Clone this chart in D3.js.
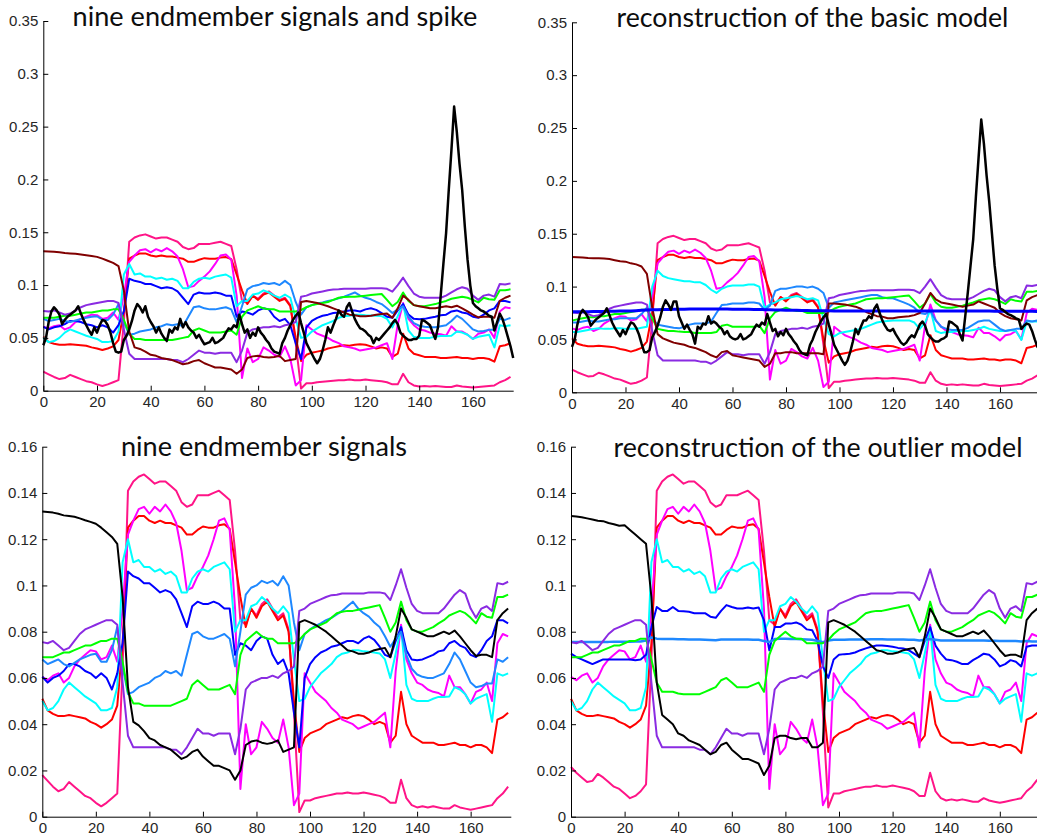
<!DOCTYPE html>
<html>
<head>
<meta charset="utf-8">
<script src="https://cdn.jsdelivr.net/npm/d3@7"></script>
<style>
  body { margin: 0; background: #fff; }
</style>
</head>
<body>
<svg id="fig" width="1037" height="836"></svg>
<script>

// endmember signals, one value every 2 samples (0, 2, ... 174)
var em1 = [.132,.1318,.1315,.131,.1303,.130,.1297,.129,.1282,.1275,
  .1267,.125,.123,.121,.118,.095,.056,.041,.0395,.037,
  .034,.033,.031,.030,.029,.027,.025,.026,.028,.029,
  .026,.024,.022,.022,.021,.020,.016,.020,.031,.0325,
  .033,.032,.0315,.032,.033,.028,.029,.030,.084,.085,
  .084,.083,.0815,.080,.078,.076,.074,.072,.0715,.0705,
  .0705,.071,.072,.0725,.073,.069,.078,.090,.086,.081,
  .080,.079,.078,.078,.079,.080,.079,.0805,.078,.075,
  .072,.0695,.070,.070,.069,.085,.088,.090]

var em2 = [.018,.0155,.013,.011,.012,.015,.013,.011,.009,.008,
  .006,.0045,.006,.008,.010,.065,.141,.145,.147,.148,
  .146,.144,.145,.145,.143,.141,.136,.134,.135,.139,
  .139,.139,.140,.141,.139,.137,.115,.085,.083,.090,
  .087,.092,.094,.090,.086,.088,.081,.045,.002,.007,
  .007,.008,.0085,.009,.0095,.010,.010,.0105,.010,.010,
  .0105,.010,.0095,.009,.008,.006,.006,.016,.008,.005,
  .004,.0045,.004,.0045,.004,.0035,.0035,.005,.004,.0035,
  .003,.0035,.004,.0045,.005,.008,.010,.013]

var em3 = [.051,.046,.0445,.0435,.0435,.044,.0435,.043,.0425,.041,
  .040,.0385,.040,.042,.048,.075,.125,.128,.130,.130,
  .128,.127,.128,.127,.127,.126,.125,.122,.122,.124,
  .1255,.125,.125,.126,.1265,.1245,.110,.095,.082,.090,
  .086,.091,.093,.089,.085,.087,.080,.050,.028,.034,
  .036,.037,.038,.040,.041,.042,.043,.0425,.0435,.044,
  .0435,.042,.040,.041,.040,.032,.035,.054,.040,.035,
  .0335,.032,.032,.032,.031,.031,.0315,.032,.031,.031,
  .030,.031,.031,.030,.0275,.042,.043,.045]

var em4 = [.0605,.059,.061,.062,.058,.060,.065,.068,.070,.072,
  .0715,.068,.069,.074,.067,.090,.122,.128,.133,.134,
  .131,.134,.132,.135,.132,.127,.115,.098,.099,.104,
  .108,.113,.120,.128,.129,.124,.090,.012,.040,.027,
  .030,.041,.038,.034,.032,.042,.030,.005,.010,.062,
  .058,.054,.052,.050,.047,.045,.042,.041,.040,.038,
  .039,.040,.041,.043,.045,.030,.063,.083,.068,.062,
  .058,.057,.055,.054,.0535,.052,.061,.056,.056,.053,
  .049,.054,.055,.058,.050,.075,.079,.078]

var em5 = [.050,.046,.047,.050,.055,.058,.056,.054,.052,.0505,
  .049,.046,.046,.047,.056,.110,.120,.110,.111,.108,
  .108,.106,.107,.105,.106,.104,.097,.097,.103,.106,
  .107,.106,.108,.109,.110,.107,.080,.085,.085,.091,
  .092,.095,.093,.090,.088,.091,.088,.068,.050,.051,
  .056,.059,.062,.064,.066,.069,.0705,.071,.072,.072,
  .0715,.0713,.071,.0706,.068,.060,.0706,.082,.057,.051,
  .050,.050,.050,.051,.0518,.0518,.052,.056,.055,.053,
  .049,.051,.052,.053,.041,.062,.061,.062]

var em6 = [.0605,.058,.060,.061,.063,.066,.066,.065,.063,.062,
  .060,.062,.060,.055,.062,.075,.106,.104,.103,.101,
  .101,.099,.097,.098,.097,.094,.088,.082,.091,.093,
  .092,.092,.093,.092,.090,.090,.070,.075,.074,.072,
  .076,.078,.077,.070,.066,.068,.062,.045,.030,.060,
  .066,.069,.071,.072,.0735,.074,.075,.076,.076,.075,
  .077,.078,.0765,.0735,.070,.069,.076,.082,.072,.068,
  .0677,.068,.069,.070,.0715,.072,.075,.076,.074,.073,
  .070,.069,.072,.076,.078,.085,.085,.0836]

var em7 = [.068,.066,.067,.068,.066,.065,.0665,.068,.069,.070,
  .0705,.067,.067,.072,.082,.065,.053,.054,.056,.057,
  .058,.060,.061,.063,.062,.063,.061,.070,.079,.080,
  .078,.077,.077,.078,.079,.077,.065,.080,.096,.099,
  .100,.102,.101,.102,.100,.104,.100,.084,.072,.079,
  .081,.0825,.0836,.085,.086,.0875,.089,.091,.093,.090,
  .088,.0865,.084,.082,.078,.0735,.077,.080,.070,.064,
  .0615,.0605,.060,.060,.061,.062,.066,.071,.068,.063,
  .058,.056,.0565,.0576,.0576,.068,.067,.069]

var em8 = [.069,.069,.069,.070,.071,.071,.072,.073,.074,.074,
  .075,.076,.076,.077,.077,.067,.054,.049,.049,.048,
  .048,.048,.048,.048,.048,.049,.050,.051,.057,.059,
  .057,.055,.055,.055,.056,.057,.053,.070,.076,.078,
  .080,.078,.077,.077,.075,.075,.075,.075,.0764,.079,
  .081,.082,.083,.084,.086,.088,.0886,.089,.089,.0895,
  .090,.0905,.091,.0915,.086,.080,.084,.093,.085,.081,
  .080,.080,.081,.082,.0836,.085,.087,.088,.089,.088,
  .086,.0836,.088,.0865,.086,.095,.095,.096]

var em9 = [.0755,.075,.076,.074,.072,.073,.076,.079,.081,.082,
  .083,.084,.085,.085,.083,.058,.035,.030,.030,.030,
  .030,.030,.030,.030,.029,.029,.027,.030,.034,.038,
  .036,.036,.035,.036,.036,.036,.027,.038,.055,.058,
  .059,.060,.060,.061,.060,.062,.063,.065,.089,.090,
  .092,.093,.094,.095,.0958,.096,.0965,.0965,.0965,.0965,
  .0965,.097,.097,.097,.0965,.0937,.100,.107,.099,.092,
  .089,.088,.088,.088,.088,.090,.093,.096,.098,.0965,
  .090,.086,.090,.091,.089,.101,.1005,.1016]

// spike signal, one value per sample (0 ... 175)
var spike = [.043,.050,.065,.075,.079,.076,.072,.063,.067,.070,
  .072,.074,.076,.080,.073,.067,.062,.057,.053,.060,
  .055,.062,.067,.066,.062,.055,.045,.037,.036,.037,
  .048,.052,.058,.066,.076,.082,.079,.074,.080,.070,
  .065,.061,.055,.060,.054,.050,.047,.058,.055,.060,
  .058,.068,.060,.065,.060,.057,.055,.050,.053,.048,
  .044,.045,.046,.050,.045,.046,.048,.050,.055,.059,
  .058,.062,.060,.072,.063,.055,.058,.050,.055,.052,
  .060,.055,.052,.048,.045,.040,.037,.036,.035,.045,
  .050,.057,.062,.067,.071,.074,.064,.055,.045,.040,
  .035,.030,.026,.030,.038,.048,.060,.055,.062,.068,
  .076,.072,.070,.079,.083,.075,.068,.063,.059,.058,
  .056,.053,.051,.045,.050,.048,.051,.054,.057,.060,
  .064,.067,.063,.055,.052,.050,.048,.048,.049,.049,
  .052,.067,.066,.064,.062,.055,.049,.060,.090,.120,
  .149,.190,.228,.269,.245,.215,.190,.155,.124,.100,
  .083,.080,.078,.076,.075,.073,.071,.070,.057,.065,
  .073,.068,.060,.051,.042,.031]

// reconstruction of the basic model
var basicSpike = [.043,.050,.064,.074,.078,.075,.071,.063,.066,.069,
  .071,.073,.075,.0795,.073,.066,.061,.057,.053,.059,
  .055,.061,.066,.065,.061,.055,.046,.038,.038,.040,
  .052,.057,.063,.071,.081,.087,.083,.078,.086,.086,
  .072,.066,.060,.064,.059,.055,.046,.062,.060,.065,
  .064,.072,.065,.067,.065,.062,.060,.055,.058,.053,
  .051,.050,.051,.055,.050,.051,.053,.055,.060,.064,
  .062,.066,.064,.074,.066,.058,.060,.053,.057,.054,
  .060,.055,.052,.048,.045,.040,.037,.036,.035,.045,
  .050,.057,.062,.067,.071,.074,.064,.055,.045,.040,
  .035,.030,.026,.030,.038,.048,.060,.055,.062,.068,
  .068,.072,.070,.079,.083,.075,.068,.063,.059,.058,
  .060,.055,.051,.047,.045,.047,.051,.054,.052,.058,
  .064,.067,.063,.055,.052,.0495,.048,.048,.050,.051,
  .053,.067,.066,.064,.062,.055,.049,.0716,.095,.120,
  .145,.185,.222,.258,.235,.205,.180,.150,.120,.098,
  .0795,.078,.076,.074,.073,.0716,.070,.069,.060,.063,
  .065,.064,.058,.050,.043,.040]

var basicEm1 = [.128,.1278,.1275,.127,.1268,.1268,.1265,.126,.125,.124,
  .1236,.122,.121,.119,.112,.080,.055,.051,.049,.047,
  .046,.045,.043,.042,.040,.038,.035,.033,.038,.039,
  .035,.034,.033,.032,.031,.030,.024,.027,.037,.037,
  .038,.038,.037,.037,.037,.037,.037,.036,.084,.084,
  .0835,.083,.082,.081,.079,.076,.074,.072,.0716,.070,
  .070,.071,.0715,.072,.073,.075,.084,.094,.088,.085,
  .084,.083,.082,.081,.082,.083,.086,.084,.082,.080,
  .075,.072,.070,.069,.068,.087,.090,.092]

var reconEm2 = [.0215,.019,.017,.015,.0155,.0185,.017,.015,.013,.012,
  .010,.008,.009,.011,.014,.068,.141,.145,.147,.148,
  .146,.144,.145,.145,.143,.141,.136,.134,.135,.139,
  .139,.139,.140,.141,.139,.137,.115,.085,.083,.090,
  .087,.092,.094,.090,.086,.088,.081,.045,.004,.010,
  .010,.011,.0115,.012,.0125,.013,.013,.0135,.013,.013,
  .0135,.013,.0125,.012,.011,.009,.009,.019,.011,.008,
  .007,.0075,.007,.0075,.007,.0065,.0065,.008,.007,.0065,
  .006,.0065,.007,.0075,.008,.011,.013,.016]

var basicEm5 = [.057,.057,.058,.059,.060,.0605,.060,.060,.0605,.0605,
  .060,.060,.060,.061,.062,.100,.115,.110,.108,.107,
  .106,.105,.105,.104,.104,.1015,.097,.094,.098,.100,
  .101,.101,.101,.102,.102,.100,.080,.083,.085,.088,
  .089,.090,.091,.090,.088,.089,.087,.070,.055,.053,
  .056,.057,.058,.059,.060,.062,.064,.066,.067,.0675,
  .068,.068,.068,.068,.066,.060,.066,.078,.058,.056,
  .057,.057,.058,.058,.058,.059,.060,.062,.060,.059,
  .058,.058,.059,.058,.0495,.067,.067,.067]

var basicEm6 = [.0762,.0762,.0763,.0763,.0764,.0764,.0765,.0766,.0767,.0768,
  .0769,.077,.0772,.0775,.0778,.078,.0782,.0783,.0784,.0785,
  .0786,.0786,.0787,.0787,.0787,.0787,.0787,.0787,.0787,.0787,
  .0786,.0786,.0785,.0785,.0784,.0784,.0782,.078,.0779,.0778,
  .0777,.0776,.0775,.0774,.0773,.0772,.0772,.0771,.0771,.077,
  .077,.077,.077,.077,.077,.077,.077,.077,.077,.077,
  .077,.077,.077,.077,.0769,.0769,.0769,.0769,.0769,.0769,
  .0769,.0769,.0768,.0768,.0768,.0768,.0768,.0768,.0768,.0767,
  .0767,.0767,.0767,.0766,.0766,.0766,.0766,.0765]

var basicEm7 = [.066,.066,.067,.068,.067,.067,.068,.069,.069,.070,
  .070,.070,.070,.074,.080,.070,.064,.063,.062,.061,
  .0605,.062,.064,.065,.065,.065,.067,.075,.0826,.083,
  .084,.084,.084,.085,.085,.084,.078,.082,.096,.098,
  .098,.099,.100,.100,.099,.100,.098,.094,.080,.085,
  .086,.087,.088,.089,.090,.091,.092,.092,.090,.089,
  .089,.087,.085,.083,.080,.075,.074,.077,.068,.062,
  .060,.059,.059,.059,.061,.064,.067,.068,.068,.064,
  .060,.058,.059,.060,.060,.068,.067,.068]

var basicEm8 = [.068,.069,.070,.071,.071,.072,.072,.073,.074,.074,
  .075,.076,.077,.078,.078,.070,.060,.059,.058,.058,
  .0574,.057,.057,.056,.056,.056,.056,.057,.063,.064,
  .062,.062,.062,.062,.062,.063,.056,.070,.076,.078,
  .080,.078,.077,.077,.075,.075,.075,.075,.0764,.079,
  .081,.082,.083,.084,.086,.088,.0886,.089,.089,.0895,
  .090,.0905,.091,.0915,.086,.080,.084,.093,.085,.081,
  .080,.080,.081,.082,.0836,.085,.087,.088,.089,.088,
  .086,.0836,.088,.0865,.086,.095,.095,.096]

// reconstruction of the outlier model
var outlierEm1 = [.130,.1298,.1295,.129,.1285,.128,.1278,.127,.1265,.1258,
  .126,.124,.122,.120,.118,.095,.058,.044,.042,.040,
  .036,.035,.033,.032,.031,.029,.027,.028,.031,.032,
  .029,.027,.025,.025,.024,.023,.018,.022,.034,.035,
  .035,.034,.0335,.034,.034,.030,.030,.032,.084,.085,
  .084,.083,.0815,.080,.078,.076,.074,.072,.0715,.0705,
  .0705,.071,.072,.0725,.073,.069,.078,.090,.086,.081,
  .080,.079,.078,.078,.079,.080,.079,.0805,.078,.075,
  .072,.0695,.070,.070,.069,.085,.088,.090]

var outlierEm6 = [.0705,.069,.068,.067,.066,.067,.068,.068,.068,.068,
  .068,.068,.0677,.068,.070,.082,.0907,.089,.089,.0907,
  .089,.0888,.0886,.088,.088,.088,.0865,.086,.089,.0915,
  .0907,.090,.090,.0905,.090,.0905,.085,.072,.082,.082,
  .0835,.0835,.084,.083,.081,.0806,.076,.065,.060,.068,
  .070,.0703,.0705,.071,.072,.0728,.0735,.074,.074,.0738,
  .0735,.073,.0727,.072,.0705,.069,.076,.082,.074,.0705,
  .068,.0677,.067,.066,.066,.0677,.069,.0705,.070,.068,
  .065,.066,.0677,.067,.065,.0735,.074,.074]

var outlierEm7 = [.0755,.0755,.0755,.0755,.0756,.0756,.0756,.0756,.0757,.0757,
  .0757,.0757,.0758,.0758,.0762,.0775,.077,.0768,.0768,.0768,
  .0767,.0767,.0766,.0766,.0766,.0765,.0764,.0763,.0766,.0766,
  .0766,.0766,.0766,.0766,.0765,.0765,.076,.0755,.0768,.077,
  .077,.0768,.0768,.0767,.0766,.0765,.076,.0755,.0762,.0765,
  .0765,.0765,.0766,.0766,.0766,.0766,.0767,.0767,.0767,.0766,
  .0766,.0766,.0766,.0765,.0765,.0762,.0765,.0768,.0765,.0762,
  .0762,.0762,.0762,.0762,.0762,.0762,.0762,.0762,.0761,.0761,
  .076,.076,.076,.076,.0758,.076,.0758,.0758]

var outlierEm8 = [.069,.069,.069,.070,.071,.071,.072,.073,.074,.074,
  .075,.076,.076,.077,.077,.068,.058,.054,.054,.054,
  .0533,.053,.053,.053,.053,.054,.055,.056,.059,.060,
  .058,.056,.056,.056,.057,.058,.054,.070,.076,.078,
  .080,.078,.077,.077,.075,.075,.075,.075,.0764,.079,
  .081,.082,.083,.084,.086,.088,.0886,.089,.089,.0895,
  .090,.0905,.091,.0915,.086,.080,.084,.093,.085,.081,
  .080,.080,.081,.082,.0836,.085,.087,.088,.089,.088,
  .086,.0836,.088,.0865,.086,.095,.095,.096]

var xTicks = [0, 20, 40, 60, 80, 100, 120, 140, 160]
var yTicksTop = [0, 0.05, 0.1, 0.15, 0.2, 0.25, 0.3, 0.35]
var yTicksBottom = [0, 0.02, 0.04, 0.06, 0.08, 0.1, 0.12, 0.14, 0.16]

var titles = ['nine endmember signals and spike', 'reconstruction of the basic model',
  'nine endmember signals', 'reconstruction of the outlier model']

var c = {
  maroon: '#800000', pink: '#ff1487', red: '#ff0000', magenta: '#ff00ff', cyan: '#00ffff',
  blue: '#0000ff', sky: '#1e88ff', green: '#00ff00', purple: '#8a2be2', black: '#000000'
}

var svg = d3.select('#fig')

var panels = [
  { title: titles[0], tx: 275, ty: 26, tw: 405, left: 43.3, right: 513.2, top: 21, bottom: 390.7, ymax: 0.35, yticks: yTicksTop,
    series: [[em2, c.pink], [em3, c.red], [em4, c.magenta], [em5, c.cyan], [em6, c.blue], [em7, c.sky],
      [em8, c.green], [em9, c.purple], [em1, c.maroon], [spike, c.black, 2.5]] },
  { title: titles[1], tx: 812.5, ty: 26.5, tw: 392, left: 572, right: 1040.1, top: 22.3, bottom: 392.3, ymax: 0.35, yticks: yTicksTop,
    series: [[reconEm2, c.pink], [em3, c.red], [em4, c.magenta], [basicEm5, c.cyan], [basicEm7, c.sky],
      [basicEm8, c.green], [em9, c.purple], [basicEm1, c.maroon], [basicEm6, c.blue, 3], [basicSpike, c.black, 2.5]] },
  { title: titles[2], tx: 264, ty: 456, tw: 286, left: 42.3, right: 510.8, top: 446.7, bottom: 816.7, ymax: 0.16, yticks: yTicksBottom,
    series: [[em2, c.pink], [em3, c.red], [em4, c.magenta], [em5, c.cyan], [em6, c.blue], [em7, c.sky],
      [em8, c.green], [em9, c.purple], [em1, c.black]] },
  { title: titles[3], tx: 818, ty: 456.5, tw: 409, left: 571, right: 1040, top: 446.7, bottom: 816.7, ymax: 0.16, yticks: yTicksBottom,
    series: [[reconEm2, c.pink], [em3, c.red], [em4, c.magenta], [em5, c.cyan], [outlierEm6, c.blue],
      [outlierEm7, c.sky, 2.5], [outlierEm8, c.green], [em9, c.purple], [outlierEm1, c.black]] }
]

panels.forEach(draw_panel)

function draw_panel(p) {

  var x = d3.scaleLinear().domain([0, 175]).range([p.left, p.right])
  var y = d3.scaleLinear().domain([0, p.ymax]).range([p.bottom, p.top])

  var g = svg.append('g')

  p.series.forEach(function(s) {
    var values = s[0]
    var step = values.length > 100 ? 1 : 2
    var line = d3.line()
      .x(function(d, i) { return x(i * step) })
      .y(function(d) { return y(d) })

    g.append('path')
      .datum(values)
      .attr('d', line)
      .attr('fill', 'none')
      .attr('stroke', s[1])
      .attr('stroke-width', s[2] || 2)
      .attr('stroke-linejoin', 'round')
  })

  // matlab style axes, ticks pointing inwards
  var y_axis = d3.axisLeft(y)
    .tickValues(p.yticks)
    .tickSizeInner(-5)
    .tickSizeOuter(0)
    .tickPadding(5)
    .tickFormat(d3.format('~g'))

  var x_axis = d3.axisBottom(x)
    .tickValues(xTicks)
    .tickSizeInner(-5)
    .tickSizeOuter(0)
    .tickPadding(6)

  g.append('g')
    .attr('transform', 'translate(' + p.left + ',0)')
    .call(y_axis)

  g.append('g')
    .attr('transform', 'translate(0,' + p.bottom + ')')
    .call(x_axis)

  g.selectAll('.tick text')
    .attr('fill', '#262626')
    .style('font-family', '"Liberation Sans", Arial, sans-serif')
    .style('font-size', '15px')

  g.selectAll('.domain, .tick line')
    .attr('stroke', '#000')

  var title = svg.append('text')
    .text(p.title)
    .attr('x', p.tx)
    .attr('y', p.ty)
    .attr('text-anchor', 'middle')
    .attr('fill', '#0d0d0d')
    .style('font-family', 'Lato, "Open Sans", sans-serif')
    .style('font-size', '24px')

  // fit the title to the width it has in the picture
  var w = title.node().getComputedTextLength()
  title.style('font-size', (24 * p.tw / w).toFixed(2) + 'px')
}

</script>
</body>
</html>
